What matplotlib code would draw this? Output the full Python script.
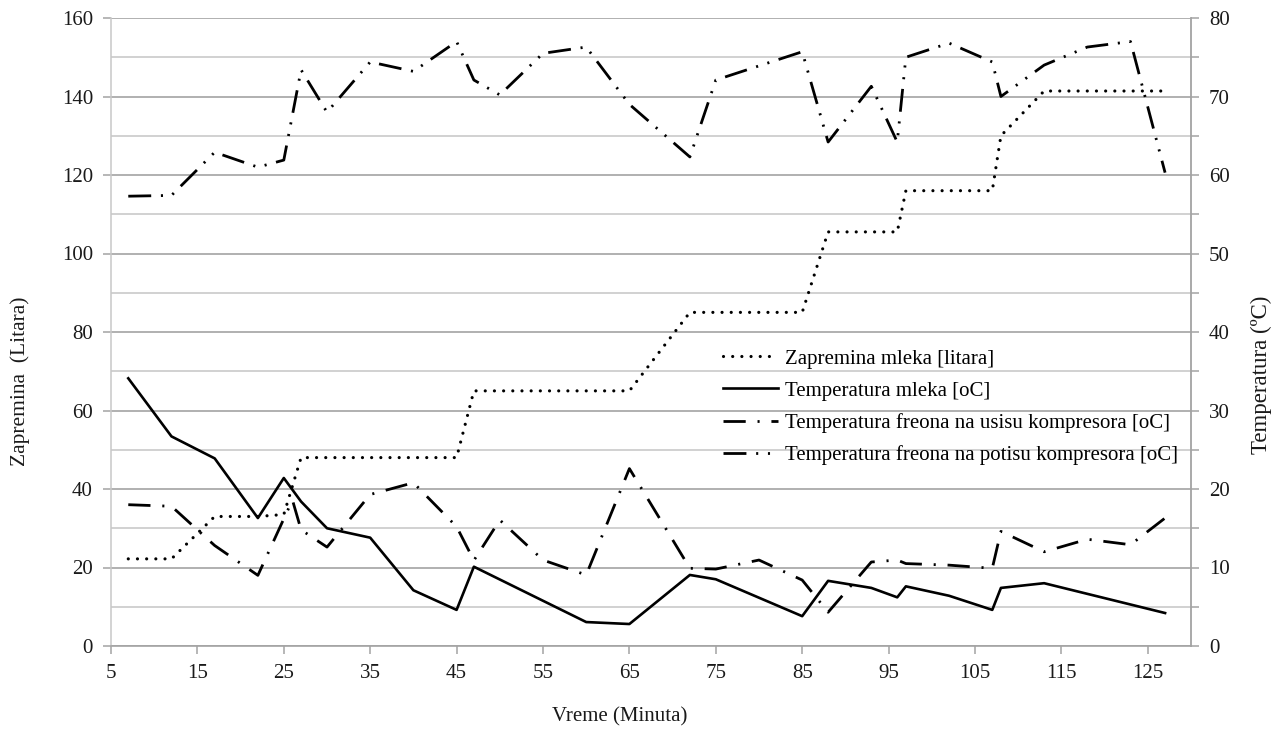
import matplotlib
matplotlib.use('Agg')
import matplotlib.pyplot as plt
from matplotlib.ticker import MultipleLocator

plt.rcParams['font.family'] = ['Liberation Serif', 'DejaVu Serif']
plt.rcParams['lines.scale_dashes'] = False

# zapremina mleka [litara] - leva osa
x_vol = [7, 12, 17, 22, 25, 27, 30, 35, 40, 45, 47, 50, 55, 60, 65, 72, 75, 80, 85,
         88, 93, 96, 97, 102, 107, 108, 113, 118, 123, 127]
vol = [22.2, 22.2, 33, 33, 33.5, 48, 48, 48, 48, 48, 65, 65, 65, 65, 65, 85, 85, 85, 85,
       105.5, 105.5, 105.5, 116, 116, 116, 130, 141.4, 141.4, 141.4, 141.4]

# temperatura mleka [oC] - desna osa
x_milk = [7, 12, 17, 22, 25, 27, 30, 35, 40, 45, 47, 60, 65, 72, 75, 85, 88, 93, 96,
          97, 102, 107, 108, 113, 127]
t_milk = [34.1, 26.7, 23.9, 16.3, 21.4, 18.4, 15.0, 13.8, 7.1, 4.6, 10.1, 3.05, 2.8,
          9.05, 8.5, 3.8, 8.3, 7.4, 6.2, 7.6, 6.4, 4.6, 7.4, 8.0, 4.2]

# temperatura freona na usisu kompresora [oC]
x_suc = [7, 12, 17, 22, 26, 27, 30, 35, 40, 45, 47, 50, 55, 60, 65, 72, 75, 80, 85,
         88, 93, 96, 97, 102, 107, 108, 113, 118, 123, 127]
t_suc = [18.0, 17.8, 12.8, 9.0, 18.6, 14.8, 12.6, 19.3, 20.8, 15.2, 10.9, 16.05, 10.95,
         9.05, 22.6, 9.9, 9.8, 10.95, 8.4, 4.3, 10.7, 10.95, 10.5, 10.3, 9.9, 14.6, 12.0,
         13.6, 12.9, 16.3]

# temperatura freona na potisu kompresora [oC]
x_dis = [7, 12, 17, 22, 25, 27, 30, 35, 40, 45, 47, 50, 55, 60, 65, 72, 75, 85, 88,
         93, 96, 97, 102, 107, 108, 113, 118, 123, 127]
t_dis = [57.3, 57.4, 62.9, 61.0, 61.9, 73.4, 68.0, 74.4, 73.2, 77.0, 72.1, 70.2, 75.5,
         76.3, 69.0, 62.3, 72.1, 75.7, 64.2, 71.3, 64.2, 75.0, 76.8, 74.4, 70.0, 74.0,
         76.3, 77.0, 60.3]

labels = ['Zapremina mleka [litara]',
          'Temperatura mleka [oC]',
          'Temperatura freona na usisu kompresora [oC]',
          'Temperatura freona na potisu kompresora [oC]']

W, H = 1283, 729
fig = plt.figure(figsize=(W / 100, H / 100), dpi=100)
ax = fig.add_axes([111 / W, 83 / H, 1080 / W, 628 / H])
ax2 = ax.twinx()

major_c = '#a3a3a3'
minor_c = '#cacaca'
txt_c = '#1a1a1a'

# mreza
ax.set_xlim(5, 130)
ax.set_ylim(0, 160)
ax2.set_ylim(0, 80)
ax.set_xticks(range(5, 126, 10))
ax.yaxis.set_major_locator(MultipleLocator(20))
ax.yaxis.set_minor_locator(MultipleLocator(10))
ax2.yaxis.set_major_locator(MultipleLocator(10))
ax2.yaxis.set_minor_locator(MultipleLocator(5))
ax.yaxis.grid(True, which='major', color=major_c, lw=1.2)
ax.yaxis.grid(True, which='minor', color=minor_c, lw=1.2)
ax.set_axisbelow(True)

for a in (ax, ax2):
    a.spines['top'].set_visible(False)
ax.spines['right'].set_visible(False)
ax.spines['left'].set_color('#c8c8c8')
ax.spines['bottom'].set_color(major_c)
ax.spines['left'].set_linewidth(1.1)
ax.spines['bottom'].set_linewidth(1.2)
ax2.spines['left'].set_visible(False)
ax2.spines['bottom'].set_visible(False)
ax2.spines['right'].set_color(major_c)
ax2.spines['right'].set_linewidth(1.3)

ax.tick_params(axis='both', which='major', length=6, width=1.1, color=major_c,
               labelsize=15, labelcolor=txt_c, pad=7)
ax.tick_params(axis='y', which='minor', length=0)
ax2.tick_params(axis='y', which='both', length=6, width=1.1, color=major_c,
                labelsize=15, labelcolor=txt_c, pad=7)

# linije
l1, = ax.plot(x_vol, vol, color='black', lw=2.3, dashes=(0.01, 6.6),
              dash_capstyle='round')
l2, = ax2.plot(x_milk, t_milk, color='black', lw=1.9)
l3, = ax2.plot(x_suc, t_suc, color='black', lw=2.0, dashes=(16, 8.5, 1.5, 8.5))
l4, = ax2.plot(x_dis, t_dis, color='black', lw=2.0,
               dashes=(16.5, 7, 1.5, 7, 1.5, 7))

ax2.legend([l1, l2, l3, l4], labels, loc='upper left',
           bbox_to_anchor=((723 - 111) / 1080, (646 - 349) / 628),
           frameon=False, fontsize=15, handlelength=2.65, handletextpad=0.33,
           labelspacing=0.6, borderpad=0, borderaxespad=0)

fig.text(20 / W, 1 - 381 / H, 'Zapremina  (Litara)', rotation=90,
         ha='center', va='center', fontsize=15.5, color=txt_c)
fig.text(620 / W, 1 - 717 / H, 'Vreme (Minuta)', ha='center', va='center',
         fontsize=15, color=txt_c)
fig.text(1261 / W, 1 - 375 / H, 'Temperatura (ºC)', rotation=90,
         ha='center', va='center', fontsize=16.5, color=txt_c)

fig.savefig('out.png', dpi=100)
